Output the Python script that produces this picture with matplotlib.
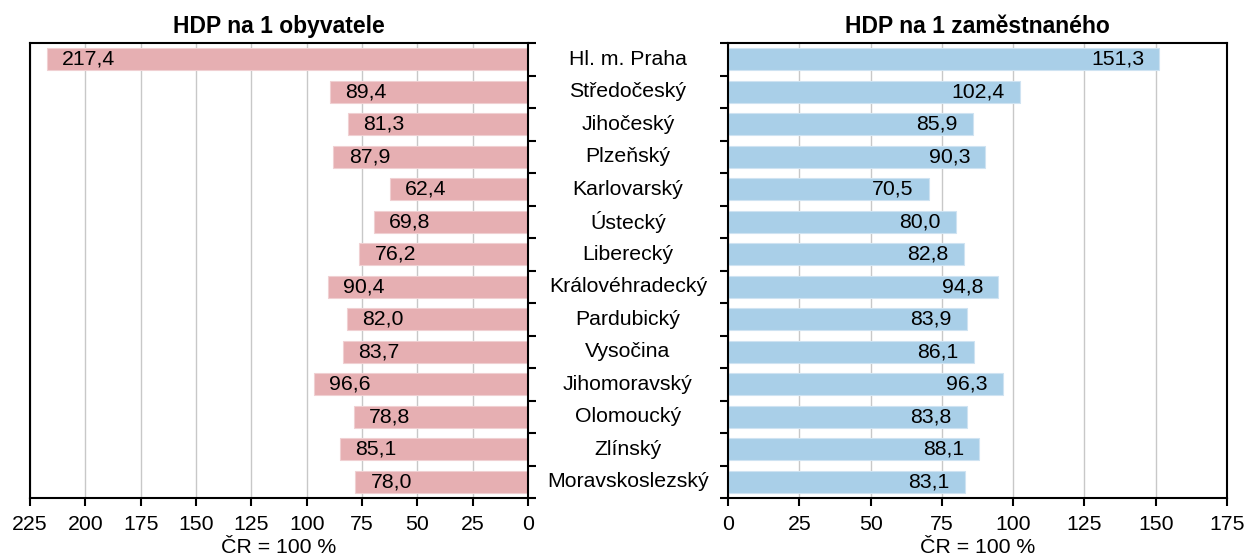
import matplotlib
matplotlib.use('Agg')
import matplotlib.pyplot as plt
import matplotlib.transforms as mtransforms
import numpy as np

plt.rcParams['font.family'] = ['Liberation Sans', 'DejaVu Sans']

# data
regions = ['Hl. m. Praha', 'Středočeský', 'Jihočeský', 'Plzeňský', 'Karlovarský',
           'Ústecký', 'Liberecký', 'Královéhradecký', 'Pardubický', 'Vysočina',
           'Jihomoravský', 'Olomoucký', 'Zlínský', 'Moravskoslezský']
hdp_obyv = [217.4, 89.4, 81.3, 87.9, 62.4, 69.8, 76.2, 90.4, 82.0, 83.7, 96.6, 78.8, 85.1, 78.0]
hdp_zam = [151.3, 102.4, 85.9, 90.3, 70.5, 80.0, 82.8, 94.8, 83.9, 86.1, 96.3, 83.8, 88.1, 83.1]
left_ticks = [0, 25, 50, 75, 100, 125, 150, 175, 200, 225]
right_ticks = [0, 25, 50, 75, 100, 125, 150, 175]

W, H = 1244, 560
fig = plt.figure(figsize=(W / 100, H / 100), dpi=100)
ax1 = fig.add_axes([30 / W, 62 / H, 498 / W, 455 / H])
ax2 = fig.add_axes([728 / W, 62 / H, 499 / W, 455 / H])

y = np.arange(len(regions))
fs = 15.3
fs_title = 16.5


def fmt(v):
    return f'{v:.1f}'.replace('.', ',')


def style(ax, xmax, ticks):
    ax.set_xlim(0, xmax)
    ax.set_ylim(len(regions) - 0.5, -0.5)
    ax.set_xticks(ticks)
    ax.set_xticklabels([str(t) for t in ticks], fontsize=fs)
    ax.set_yticks(np.arange(-0.5, len(regions), 1.0))
    ax.set_yticklabels([])
    ax.grid(axis='x', color='#c8c8c8', linewidth=1.0)
    ax.set_axisbelow(True)
    for s in ax.spines.values():
        s.set_linewidth(1.5)
    ax.tick_params(axis='x', length=6, width=1.5, pad=6)
    ax.tick_params(axis='y', length=6, width=1.5)
    ax.set_xlabel('ČR = 100 %', fontsize=fs, labelpad=3)


# levý panel
ax1.barh(y, hdp_obyv, height=0.68, color='#e6afb2', edgecolor='#f0d0d2', linewidth=0.8)
style(ax1, 225, left_ticks)
ax1.invert_xaxis()
ax1.yaxis.tick_right()
ax1.set_title('HDP na 1 obyvatele', fontsize=fs_title, fontweight='bold', pad=7)
for yi, v in zip(y, hdp_obyv):
    ax1.annotate(fmt(v), (v, yi), xytext=(11, 0), textcoords='offset points',
                 ha='left', va='center', fontsize=fs)

# pravý panel
ax2.barh(y, hdp_zam, height=0.68, color='#a9cfe8', edgecolor='#cfe3f2', linewidth=0.8)
style(ax2, 175, right_ticks)
ax2.set_title('HDP na 1 zaměstnaného', fontsize=fs_title, fontweight='bold', pad=7)
for yi, v in zip(y, hdp_zam):
    ax2.annotate(fmt(v), (v, yi), xytext=(-11, 0), textcoords='offset points',
                 ha='right', va='center', fontsize=fs)

# názvy krajů uprostřed
trans = mtransforms.blended_transform_factory(fig.transFigure, ax2.transData)
for yi, name in zip(y, regions):
    fig.text(628 / W, yi, name, transform=trans, ha='center', va='center', fontsize=fs)

fig.savefig('out.png', dpi=100)
